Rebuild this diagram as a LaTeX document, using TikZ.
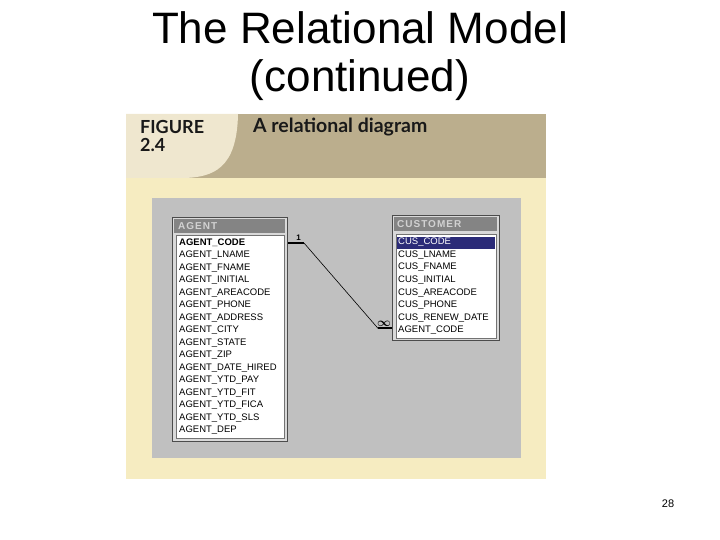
\documentclass[tikz,border=0pt]{standalone}
\usepackage{amsmath,amssymb}
\usepackage{fontspec}
\setmainfont{Liberation Sans}
\newfontfamily\figfont{Lato}
\usetikzlibrary{positioning,calc}
\definecolor{hdrtan}{HTML}{BBAE8D}
\definecolor{hdrlight}{HTML}{EFE7CF}
\definecolor{figcream}{HTML}{F6ECC1}
\definecolor{panelgrey}{HTML}{C0C0C0}
\definecolor{bargrey}{HTML}{848484}
\definecolor{bartext}{HTML}{D2D2D2}
\definecolor{selblue}{HTML}{2B2B78}
\tikzset{
  slidetitle/.style={font=\fontsize{44}{48}\selectfont,inner sep=0pt},
  figlbl/.style={anchor=base west,inner sep=0pt,text=black!90,
    font=\figfont\bfseries\fontsize{18}{20}\selectfont},
  tblframe/.style={draw=black!70,fill=panelgrey!60!white,line width=1pt,
    anchor=north west,inner sep=0pt},
  tblbar/.style={fill=bargrey,anchor=north west,inner sep=0pt},
  tbltitle/.style={anchor=west,inner sep=0pt,text=bartext,
    font=\bfseries\fontsize{10}{10}\selectfont\addfontfeature{LetterSpace=10}},
  tbllist/.style={draw=black!55,fill=white,line width=0.6pt,
    anchor=north west,inner sep=0pt},
  selbox/.style={fill=selblue,anchor=north west,inner sep=0pt},
  field/.style={anchor=west,inner sep=0pt,font=\fontsize{9.5}{11}\selectfont},
  keyfield/.style={field,font=\bfseries\fontsize{9.5}{11}\selectfont},
  relbar/.style={line width=1.8pt},
  relline/.style={line width=0.6pt},
  rellbl/.style={inner sep=0pt,font=\bfseries\fontsize{8}{9}\selectfont},
}
\begin{document}
\begin{tikzpicture}[x=1pt,y=-1pt]
  \useasboundingbox (0,0) rectangle (720,540);
  % slide title
  \node[slidetitle] (title1) at (360,28) {The Relational Model};
  \node[slidetitle] (title2) at (360,80) {(continued)};

  % figure frame
  \fill[figcream] (126,114) rectangle (546,479);
  \fill[hdrtan] (126,114) rectangle (546,178);
  \fill[hdrlight] (126,114) -- (238,114)
    .. controls (237,168) and (214,178) .. (181,178) -- (126,178) -- cycle;
  \node[figlbl] (fignum1) at (140,134) {FIGURE};
  \node[figlbl] (fignum2) at (140,152) {2.4};
  \node[figlbl,font=\figfont\bfseries\fontsize{19.5}{22}\selectfont]
    (figcap) at (253,133) {A relational diagram};
  \fill[panelgrey] (152,198) rectangle (521,458);

  % AGENT table
  \node[tblframe,minimum width=115,minimum height=224] (agent) at (172,217) {};
  \node[tblbar,minimum width=111,minimum height=14] (agent-bar) at (174,219) {};
  \node[tbltitle,right=4pt of agent-bar.west] (agent-name) {AGENT};
  \node[tbllist,minimum width=108,minimum height=203] (agent-list) at (176,235) {};
  \node[keyfield] (agent-1) at (179,243) {AGENT\_CODE};
  \foreach \f [count=\i from 2] in {AGENT\_LNAME,AGENT\_FNAME,AGENT\_INITIAL,
      AGENT\_AREACODE,AGENT\_PHONE,AGENT\_ADDRESS,AGENT\_CITY,AGENT\_STATE,
      AGENT\_ZIP,AGENT\_DATE\_HIRED,AGENT\_YTD\_PAY,AGENT\_YTD\_FIT,
      AGENT\_YTD\_FICA,AGENT\_YTD\_SLS,AGENT\_DEP}
    \node[field] (agent-\i) at (179,{243+12.5*(\i-1)}) {\f};

  % CUSTOMER table
  \node[tblframe,minimum width=107,minimum height=125] (customer) at (392,215) {};
  \node[tblbar,minimum width=103,minimum height=14] (cus-bar) at (394,217) {};
  \node[tbltitle,right=3pt of cus-bar.west] (cus-name) {CUSTOMER};
  \node[tbllist,minimum width=100,minimum height=104] (cus-list) at (396,234) {};
  \node[selbox,minimum width=98,minimum height=12] (cus-sel) at (397,236.5) {};
  \node[field,text=white] (cus-1) at (398,242.5) {CUS\_CODE};
  \foreach \f [count=\i from 2] in {CUS\_LNAME,CUS\_FNAME,CUS\_INITIAL,
      CUS\_AREACODE,CUS\_PHONE,CUS\_RENEW\_DATE,AGENT\_CODE}
    \node[field] (cus-\i) at (398,{242.5+12.55*(\i-1)}) {\f};

  % relationship 1:M
  \draw[relbar] (agent.east |- agent-1) -- +(16,0) coordinate (rel-one);
  \draw[relbar] ($(customer.west |- cus-8)+(0,-2)$) -- +(-14,0) coordinate (rel-many);
  \draw[relline] (rel-one) -- (rel-many);
  \node[rellbl,above left=2pt and 3pt of rel-one] (one-lbl) {1};
  \node[rellbl,above right=2pt and -1pt of rel-many,
    font=\fontsize{12}{12}\selectfont] (many-lbl) {$\boldsymbol{\infty}$};

  % page number
  \node[font=\fontsize{11}{12}\selectfont,inner sep=0pt] (pagenum) at (668,504) {28};
\end{tikzpicture}
\end{document}
